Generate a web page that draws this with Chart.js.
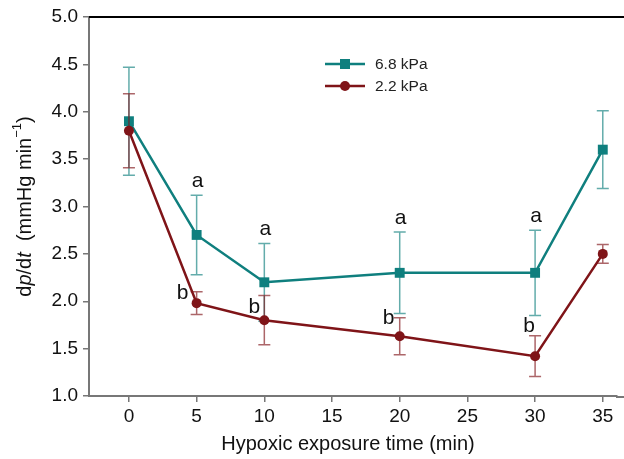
<!DOCTYPE html>
<html>
<head>
<meta charset="utf-8">
<script src="https://cdn.jsdelivr.net/npm/chart.js@4.4.1/dist/chart.umd.min.js"></script>
<style>
  html, body { margin: 0; padding: 0; background: #fff; }
  #wrap { width: 624px; height: 459px; }
</style>
</head>
<body>
<div id="wrap"><canvas id="hypoxiaChart" width="624" height="459"></canvas></div>
<script>
// data
const times = [0, 5, 10, 20, 30, 35];
const xTicks = [0, 5, 10, 15, 20, 25, 30, 35];
const yTicks = [1.0, 1.5, 2.0, 2.5, 3.0, 3.5, 4.0, 4.5, 5.0];

const high = [3.9, 2.7, 2.2, 2.3, 2.3, 3.6];        // 6.8 kPa
const highErr = [0.57, 0.42, 0.41, 0.43, 0.45, 0.41];
const low = [3.8, 1.98, 1.8, 1.63, 1.42, 2.5];      // 2.2 kPa
const lowErr = [0.39, 0.12, 0.26, 0.195, 0.215, 0.10];

// significance letters at 5, 10, 20, 30 min
const letterTimes = [5, 10, 20, 30];

const TEAL = '#0f7f7e';
const RED = '#7f1418';
const FONT = '"Liberation Sans", Arial, Helvetica, sans-serif';

// pixel nudges for the "b" letters (dx, dy from the point)
const bOffsets = [[-14, -10], [-10, -13], [-11, -18], [-6, -30]];

function toXY(vals) {
  return times.map((t, i) => ({ x: t, y: vals[i] }));
}

const extras = {
  id: 'extras',
  beforeDatasetDraw(chart, args) {
    // error bars go under each series' line and markers
    const ds = chart.data.datasets[args.index];
    const xs = chart.scales.x, ys = chart.scales.y;
    const c = chart.ctx;
    c.save();
    c.strokeStyle = ds.errColor;
    c.lineWidth = 1.5;
    ds.data.forEach((p, i) => {
      const px = xs.getPixelForValue(p.x);
      const top = ys.getPixelForValue(p.y + ds.err[i]);
      const bot = ys.getPixelForValue(p.y - ds.err[i]);
      c.beginPath();
      c.moveTo(px, top); c.lineTo(px, bot);
      c.moveTo(px - 6, top); c.lineTo(px + 6, top);
      c.moveTo(px - 6, bot); c.lineTo(px + 6, bot);
      c.stroke();
    });
    c.restore();
  },
  afterDraw(chart) {
    const c = chart.ctx;
    const area = chart.chartArea;
    const xs = chart.scales.x, ys = chart.scales.y;
    c.save();

    // top frame line, running off the right edge like the original
    c.strokeStyle = '#000';
    c.lineWidth = 2;
    c.beginPath();
    c.moveTo(area.left, area.top);
    c.lineTo(chart.width, area.top);
    c.stroke();
    // x axis continues to the edge as well
    c.strokeStyle = '#777';
    c.beginPath();
    c.moveTo(area.right - 1, area.bottom + 1);
    c.lineTo(chart.width, area.bottom + 1);
    c.stroke();

    // letters
    c.fillStyle = '#111';
    c.font = '21px ' + FONT;
    c.textAlign = 'center';
    c.textBaseline = 'middle';
    letterTimes.forEach((t, k) => {
      const i = times.indexOf(t);
      const px = xs.getPixelForValue(t);
      c.fillText('a', px + 1, ys.getPixelForValue(high[i] + highErr[i]) - 14);
      c.fillText('b', px + bOffsets[k][0], ys.getPixelForValue(low[i]) + bOffsets[k][1]);
    });

    // legend
    c.font = '15.5px ' + FONT;
    c.textAlign = 'left';
    const rows = [
      { label: '6.8 kPa', color: TEAL, style: 'rect' },
      { label: '2.2 kPa', color: RED, style: 'circle' }
    ];
    rows.forEach((r, k) => {
      const y = 64 + k * 22;
      c.strokeStyle = r.color;
      c.lineWidth = 2.5;
      c.beginPath();
      c.moveTo(325, y); c.lineTo(365, y);
      c.stroke();
      c.fillStyle = r.color;
      if (r.style === 'rect') {
        c.fillRect(340, y - 5, 10, 10);
      } else {
        c.beginPath();
        c.arc(345, y, 5, 0, Math.PI * 2);
        c.fill();
      }
      c.fillStyle = '#222';
      c.fillText(r.label, 375, y + 1);
    });

    // x title
    c.fillStyle = '#111';
    c.font = '20px ' + FONT;
    c.textAlign = 'center';
    c.fillText('Hypoxic exposure time (min)', 348, 444);

    // y title with italic p and t and superscript
    const parts = [
      { s: 'd', f: '20px ' + FONT, dy: 0 },
      { s: 'p', f: 'italic 20px ' + FONT, dy: 0 },
      { s: '/d', f: '20px ' + FONT, dy: 0 },
      { s: 't', f: 'italic 20px ' + FONT, dy: 0 },
      { s: '  (mmHg min', f: '20px ' + FONT, dy: 0 },
      { s: '\u22121', f: '13px ' + FONT, dy: -8 },
      { s: ')', f: '20px ' + FONT, dy: 0 }
    ];
    let total = 0;
    parts.forEach(p => { c.font = p.f; p.w = c.measureText(p.s).width; total += p.w; });
    c.translate(25, (area.top + area.bottom) / 2);
    c.rotate(-Math.PI / 2);
    c.textAlign = 'left';
    let x = -total / 2;
    parts.forEach(p => {
      c.font = p.f;
      c.fillText(p.s, x, p.dy);
      x += p.w;
    });
    c.restore();
  }
};

const ctx = document.getElementById('hypoxiaChart').getContext('2d');
new Chart(ctx, {
  type: 'line',
  data: {
    datasets: [
      {
        label: '2.2 kPa',
        data: toXY(low),
        err: lowErr,
        errColor: 'rgba(127,20,24,0.65)',
        borderColor: RED,
        backgroundColor: RED,
        borderWidth: 2.5,
        pointStyle: 'circle',
        pointRadius: 5,
        pointBorderWidth: 0,
        order: 0
      },
      {
        label: '6.8 kPa',
        data: toXY(high),
        err: highErr,
        errColor: 'rgba(15,127,126,0.65)',
        borderColor: TEAL,
        backgroundColor: TEAL,
        borderWidth: 2.5,
        pointStyle: 'rect',
        pointRadius: 7,
        pointBorderWidth: 0,
        order: 1
      }
    ]
  },
  options: {
    responsive: false,
    animation: false,
    layout: { padding: { top: 17, right: 0, left: 0, bottom: 0 } },
    plugins: {
      legend: { display: false },
      tooltip: { enabled: false }
    },
    scales: {
      x: {
        type: 'linear',
        min: -2.95,
        max: 36.05,
        afterBuildTicks: s => { s.ticks = xTicks.map(v => ({ value: v })); },
        afterFit: s => { s.height = 63; },
        grid: { drawOnChartArea: false, drawTicks: true, tickLength: 6, color: '#777', lineWidth: 1.5 },
        border: { color: '#777', width: 2 },
        ticks: { color: '#111', font: { size: 19, family: FONT }, padding: 3, maxRotation: 0 }
      },
      y: {
        type: 'linear',
        min: 1,
        max: 5,
        afterBuildTicks: s => { s.ticks = yTicks.map(v => ({ value: v })); },
        afterFit: s => { s.width = 89; },
        grid: { drawOnChartArea: false, drawTicks: true, tickLength: 6, color: '#777', lineWidth: 1.5 },
        border: { color: '#777', width: 2 },
        ticks: {
          color: '#111',
          font: { size: 19, family: FONT },
          padding: 5,
          callback: v => v.toFixed(1)
        }
      }
    }
  },
  plugins: [extras]
});
</script>
</body>
</html>
